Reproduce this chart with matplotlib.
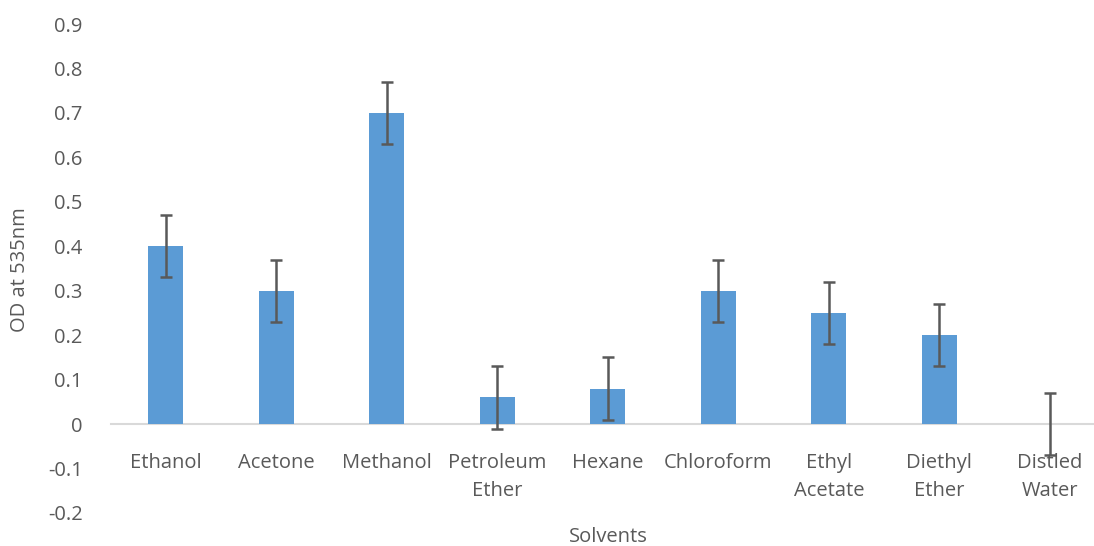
import numpy as np
import matplotlib.pyplot as plt

solvents = ['Ethanol', 'Acetone', 'Methanol', 'Petroleum\nEther', 'Hexane',
            'Chloroform', 'Ethyl\nAcetate', 'Diethyl\nEther', 'Distled\nWater']
od = [0.4, 0.3, 0.7, 0.06, 0.08, 0.3, 0.25, 0.2, 0.0]
err = [0.07, 0.07, 0.07, 0.07, 0.07, 0.07, 0.07, 0.07, 0.07]
yticks = [-0.2, -0.1, 0, 0.1, 0.2, 0.3, 0.4, 0.5, 0.6, 0.7, 0.8, 0.9]

plt.rcParams['font.family'] = ['Open Sans', 'DejaVu Sans']
txt = '#595959'

W, H = 1094, 546
fig = plt.figure(figsize=(W / 100, H / 100), dpi=100)
# plot area runs a bit past the right edge, like the cropped original
ax = fig.add_axes([110.5 / W, (H - 513) / H, 994.5 / W, (513 - 24) / H])

x = np.arange(len(solvents))
ax.bar(x, od, width=0.316, color='#5B9BD5', linewidth=0, zorder=2)
ax.errorbar(x, od, yerr=err, fmt='none', ecolor='#595959', elinewidth=1.8,
            capsize=4.2, capthick=1.8, zorder=3)

ax.set_xlim(-0.5, len(solvents) - 0.5)
ax.set_ylim(-0.2, 0.9)
ax.set_yticks(yticks)
ax.set_yticklabels(['-0.2', '-0.1', '0', '0.1', '0.2', '0.3', '0.4', '0.5', '0.6',
                    '0.7', '0.8', '0.9'])
ax.set_xticks(x)
ax.set_xticklabels(solvents)

for s in ['top', 'right', 'left']:
    ax.spines[s].set_visible(False)
ax.spines['bottom'].set_position(('data', 0))
ax.spines['bottom'].set_color('#D9D9D9')
ax.spines['bottom'].set_linewidth(1.5)
ax.spines['bottom'].set_zorder(1)

ax.tick_params(axis='both', length=0, labelsize=14.5, labelcolor=txt)
ax.tick_params(axis='x', pad=21)
ax.tick_params(axis='y', pad=20)
for t in ax.get_xticklabels():
    t.set_linespacing(1.52)

fig.text(20 / W, 1 - 270 / H, 'OD at 535nm', rotation=90, ha='center', va='center',
         fontsize=14.5, color=txt)
fig.text(608 / W, 1 - 537 / H, 'Solvents', ha='center', va='center',
         fontsize=14.5, color=txt)

fig.savefig('out.png', dpi=100)
